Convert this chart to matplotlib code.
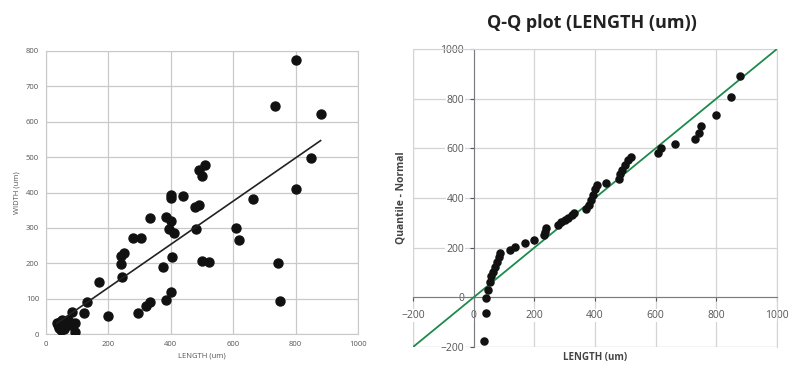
import numpy as np
import matplotlib
matplotlib.use('Agg')
import matplotlib.pyplot as plt

# scatter data: LENGTH vs WIDTH
length = [800, 735, 880, 850, 800, 665, 610, 620, 743, 750,
          510, 490, 499, 479, 490, 482, 499, 521, 438, 400,
          400, 385, 400, 394, 409, 404, 375, 400, 384, 334,
          332, 320, 280, 306, 170, 239, 251, 239, 245, 199,
          296, 132, 121, 83, 92, 92,
          35, 40, 45, 50, 55, 60, 65, 70, 75, 48, 58, 68, 42, 80]
width = [774, 645, 621, 498, 410, 383, 300, 265, 201, 92,
         478, 465, 446, 360, 365, 296, 207, 203, 389, 393,
         384, 331, 319, 296, 285, 217, 190, 118, 97, 328,
         91, 78, 272, 272, 148, 220, 228, 197, 161, 52,
         58, 91, 58, 62, 30, 7,
         30, 25, 35, 40, 20, 30, 35, 40, 25, 10, 15, 28, 18, 30]

# linear trend line
trend_x = [35, 880]
trend_slope = 0.611
trend_icpt = 9

# Q-Q plot data
qq_x = [877, 847, 798, 751, 743, 731, 664, 619, 608, 519,
        510, 500, 490, 484, 478, 437, 407, 400, 393, 387,
        380, 371, 330, 325, 311, 300, 289, 278, 240, 236,
        233, 199, 168, 135, 121, 88, 84, 78, 71, 64,
        58, 53, 47, 42, 40, 35]
qq_y = [892, 805, 735, 688, 663, 638, 618, 600, 580, 566,
        553, 533, 513, 496, 476, 461, 452, 435, 412, 391,
        371, 355, 340, 331, 321, 311, 304, 291, 280, 264,
        250, 230, 217, 203, 192, 180, 163, 143, 122, 102,
        85, 62, 31, -1, -63, -174]

fig = plt.figure(figsize=(7.9, 3.65), dpi=100)
plt.rcParams['font.family'] = ['Open Sans', 'DejaVu Sans']

grid_col = '#c9c9c9'
tick_col = '#555555'

# ---- left: scatter with trend line ----
ax1 = fig.add_axes([0.0582, 0.0849, 0.395, 0.7754])
ax1.scatter(length, width, s=42, color='#111111', zorder=3)
tx = np.array(trend_x)
ax1.plot(tx, trend_slope * tx + trend_icpt, color='#222222', linewidth=1.2, zorder=4)
ax1.set_xlim(0, 1000)
ax1.set_ylim(0, 800)
ax1.set_xticks(np.arange(0, 1001, 200))
ax1.set_yticks(np.arange(0, 801, 100))
ax1.grid(True, color=grid_col, linewidth=0.9)
ax1.set_axisbelow(True)
for sp in ax1.spines.values():
    sp.set_color(grid_col)
ax1.tick_params(length=0, labelsize=5.5, colors=tick_col, pad=5)
ax1.set_xlabel('LENGTH (um)', fontsize=5.5, color=tick_col, labelpad=3)
ax1.set_ylabel('WIDTH (um)', fontsize=5.5, color=tick_col, labelpad=4)

# ---- right: Q-Q plot ----
ax2 = fig.add_axes([0.5228, 0.0493, 0.4607, 0.8165])
ax2.plot([-200, 1000], [-200, 1000], color='#1e8a4c', linewidth=1.3, zorder=3)
ax2.scatter(qq_x, qq_y, s=26, color='#111111', zorder=4)
ax2.set_xlim(-200, 1000)
ax2.set_ylim(-200, 1000)
ax2.set_xticks(np.arange(-200, 1001, 200))
ax2.set_yticks(np.arange(-200, 1001, 200))
ax2.grid(True, color='#d4d4d4', linewidth=0.9)
ax2.set_axisbelow(True)
for sp in ['top', 'right']:
    ax2.spines[sp].set_color('#d4d4d4')
ax2.spines['left'].set_position(('data', 0))
ax2.spines['bottom'].set_position(('data', 0))
ax2.spines['left'].set_color('#7a7a80')
ax2.spines['bottom'].set_color('#7a7a80')
ax2.axvline(-200, color='#d4d4d4', linewidth=0.9, zorder=0)
ax2.axhline(-200, color='#d4d4d4', linewidth=0.9, zorder=0)
ax2.tick_params(length=3, labelsize=7.5, colors=tick_col)
ax2.tick_params(axis='x', pad=6)
ax2.tick_params(axis='y', pad=4)
for lab in ax2.get_xticklabels() + ax2.get_yticklabels():
    lab.set_bbox(dict(facecolor='white', edgecolor='none', pad=0.5))
ax2.set_xlabel('LENGTH (um)', fontsize=7, fontweight='bold', color='#444444')
ax2.xaxis.set_label_coords(0.5, -0.018)
ax2.set_ylabel('Quantile - Normal', fontsize=7.5, fontweight='bold', color='#444444')
ax2.yaxis.set_label_coords(-0.018, 0.5)

fig.text(0.749, 0.936, 'Q-Q plot (LENGTH (um))', ha='center', va='center',
         fontsize=13, fontweight='bold', color='#222222')

plt.savefig('out.png', dpi=100)
